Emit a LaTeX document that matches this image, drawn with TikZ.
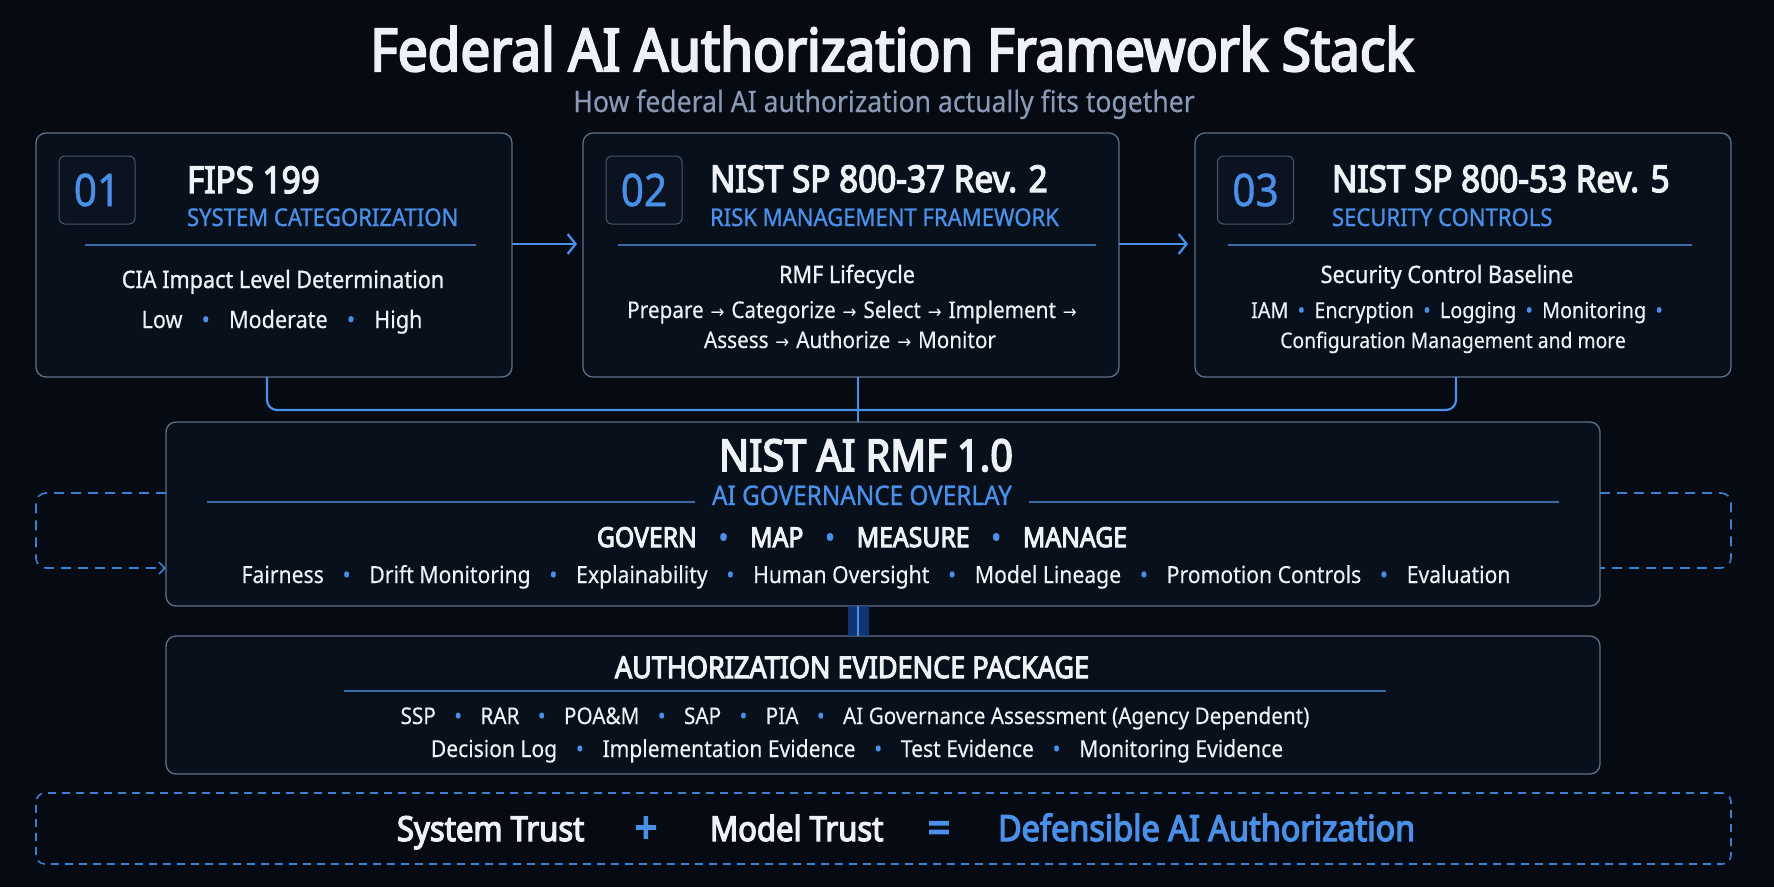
\documentclass[tikz,border=0pt]{standalone}
\usepackage{fontspec}
\setmainfont{Noto Sans}[FakeStretch=0.9,FakeBold=0.3]
\newfontfamily\medfont{Noto Sans}[FakeStretch=0.9,FakeBold=1.0]
\newfontfamily\bfont{Noto Sans}[FakeStretch=0.9,FakeBold=3.6]
\newfontfamily\arrowfont{DejaVu Sans}[Scale=0.8,FakeStretch=0.9]
\usetikzlibrary{arrows.meta,calc}
\definecolor{bg}{HTML}{050A13}
\definecolor{cardfill}{HTML}{07101B}
\definecolor{cardborder}{HTML}{5F7089}
\definecolor{numborder}{HTML}{4A576C}
\definecolor{numfill}{HTML}{0A131F}
\definecolor{accent}{HTML}{4A8FE8}
\definecolor{sepblue}{HTML}{3C6CA8}
\definecolor{dashblue}{HTML}{3B7FD0}
\definecolor{subgray}{HTML}{8A9AB5}
\definecolor{txtwhite}{HTML}{EEF1F5}
\definecolor{glowblue}{HTML}{12408C}
\newcommand{\bul}{\hspace{0.8em}{\color{accent}\textbullet}\hspace{0.8em}}
\newcommand{\bulS}{\hspace{0.42em}{\color{accent}\textbullet}\hspace{0.42em}}
\newcommand{\rar}{\hspace{0.3em}{\arrowfont →}\hspace{0.3em}}
\tikzset{
  card/.style={draw=cardborder, fill=cardfill, rounded corners=10pt, line width=1.3pt, inner sep=0pt, outer sep=0pt},
  numbox/.style={draw=numborder, fill=numfill, rounded corners=6pt, line width=1pt, inner sep=0pt, outer sep=0pt,
    minimum width=76pt, minimum height=68pt, text=accent, font=\medfont\fontsize{45}{47}\selectfont},
  txt/.style={text=txtwhite, inner sep=0pt, outer sep=0pt, anchor=base},
  ttl/.style={txt, anchor=base west, font=\bfont\fontsize{37}{40}\selectfont},
  subh/.style={txt, anchor=base west, text=accent, font=\medfont\fontsize{24.5}{26}\selectfont},
  head/.style={txt, font=\medfont\fontsize{24}{28}\selectfont},
  body/.style={txt, font=\fontsize{23}{27}\selectfont},
  sepline/.style={draw=sepblue, line width=1.5pt},
  conn/.style={draw=accent, line width=2.2pt, rounded corners=10pt},
  arr/.style={draw=accent, line width=2.2pt, -{Straight Barb[length=8pt,width=20pt,line width=2.2pt]}},
  loopline/.style={draw=dashblue, line width=1.6pt, dash pattern=on 10pt off 7pt, rounded corners=10pt},
  dashbox/.style={draw=dashblue, line width=1.6pt, dash pattern=on 8pt off 6pt, rounded corners=9pt, inner sep=0pt, outer sep=0pt},
  eqtxt/.style={txt, anchor=base west, font=\bfont\fontsize{34.5}{36}\selectfont}
}
\begin{document}
\begin{tikzpicture}[x=1pt,y=-1pt]
\fill[bg] (0,0) rectangle (1774,887);
\useasboundingbox (0,0) rectangle (1774,887);

% title
\node[txt, font=\bfont\fontsize{59}{62}\selectfont] (title) at (892,71) {Federal AI Authorization Framework Stack};
\node[txt, text=subgray, font=\fontsize{29.5}{32}\selectfont] (subtitle) at (884,112) {How federal AI authorization actually fits together};

% cards
\node[card, minimum width=476pt, minimum height=244pt] (card1) at (274,255) {};
\node[card, minimum width=536pt, minimum height=244pt] (card2) at (851,255) {};
\node[card, minimum width=536pt, minimum height=244pt] (card3) at (1463,255) {};

\node[numbox] (n1) at (97,190) {01};
\node[numbox] (n2) at (644,190) {02};
\node[numbox] (n3) at (1255.5,190) {03};

\node[ttl] (t1) at (187,193) {FIPS 199};
\node[subh] (s1) at (187,226) {SYSTEM CATEGORIZATION};
\draw[sepline] (85,245) -- (476,245);
\node[head] (c1a) at (283,288) {CIA Impact Level Determination};
\node[body, font=\fontsize{24}{27}\selectfont] (c1b) at (282,328) {Low\bul Moderate\bul High};

\node[ttl] (t2) at (710,192) {NIST SP 800-37 Rev. 2};
\node[subh] (s2) at (710,226) {RISK MANAGEMENT FRAMEWORK};
\draw[sepline] (618,245) -- (1096,245);
\node[head] (c2a) at (847,283) {RMF Lifecycle};
\node[body] (c2b) at (852,318) {Prepare\rar Categorize\rar Select\rar Implement\rar};
\node[body] (c2c) at (850,348) {Assess\rar Authorize\rar Monitor};

\node[ttl] (t3) at (1332,192) {NIST SP 800-53 Rev. 5};
\node[subh] (s3) at (1332,226) {SECURITY CONTROLS};
\draw[sepline] (1228,245) -- (1692,245);
\node[head] (c3a) at (1447,283) {Security Control Baseline};
\node[body, font=\fontsize{22}{26}\selectfont] (c3b) at (1457,318) {IAM\bulS Encryption\bulS Logging\bulS Monitoring\bulS};
\node[body, font=\fontsize{21.5}{26}\selectfont] (c3c) at (1453,348) {Configuration Management and more};

% arrows between cards
\draw[arr] ([yshift=11pt]card1.east) -- ([yshift=11pt,xshift=-6pt]card2.west);
\draw[arr] ([yshift=11pt]card2.east) -- ([yshift=11pt,xshift=-7pt]card3.west);

% middle box
\node[card, minimum width=1434pt, minimum height=184pt] (mid) at (883,514) {};
\coordinate (hbus) at (858,410);
\draw[conn] ([xshift=-7pt]card1.south) |- (hbus) -| ([xshift=-7pt]card3.south);
\draw[conn, line width=1.6pt] ([xshift=7pt]card2.south) -- ([xshift=-25pt]mid.north);

\node[txt, font=\bfont\fontsize{44}{46}\selectfont] (mt) at (866,471) {NIST AI RMF 1.0};
\node[txt, text=accent, font=\medfont\fontsize{27}{30}\selectfont] (mo) at (862,505) {AI GOVERNANCE OVERLAY};
\draw[sepline] (207,502) -- (695,502);
\draw[sepline] (1029,502) -- (1559,502);
\node[txt, font=\bfont\fontsize{27.5}{30}\selectfont] (mf) at (862,547) {GOVERN\bul MAP\bul MEASURE\bul MANAGE};
\node[body, font=\fontsize{23.5}{27}\selectfont] (ma) at (876,583) {Fairness\bul Drift Monitoring\bul Explainability\bul Human Oversight\bul Model Lineage\bul Promotion Controls\bul Evaluation};

% feedback loops
\coordinate (lloop) at (36,530);
\coordinate (rloop) at (1731,530);
\draw[loopline, -{Straight Barb[length=6pt,width=12pt,line width=1.6pt]}] ([yshift=21pt]mid.west) -| (lloop) |- ([yshift=-54pt]mid.west);
\draw[loopline] ([yshift=21pt]mid.east) -| (rloop) |- ([yshift=-54pt]mid.east);

% evidence box
\node[card, minimum width=1434pt, minimum height=138pt] (ev) at (883,705) {};
\draw[draw=glowblue, line width=21pt, opacity=0.8] ([xshift=-25pt]mid.south) -- ([xshift=-25pt]ev.north);
\draw[draw=accent, line width=2pt] ([xshift=-25pt]mid.south) -- ([xshift=-25pt]ev.north);
\node[txt, font=\bfont\fontsize{30}{32}\selectfont] (et) at (852,678) {AUTHORIZATION EVIDENCE PACKAGE};
\draw[sepblue, line width=2pt] (344,691) -- (1386,691);
\node[txt, font=\fontsize{23}{26}\selectfont] (e1) at (855,724) {SSP\bul RAR\bul POA\&M\bul SAP\bul PIA\bul AI Governance Assessment (Agency Dependent)};
\node[txt, font=\fontsize{23.4}{26}\selectfont] (e2) at (857,757) {Decision Log\bul Implementation Evidence\bul Test Evidence\bul Monitoring Evidence};

% equation bar
\node[dashbox, minimum width=1695pt, minimum height=71pt] (eq) at (883.5,828.5) {};
\node[eqtxt] (st) at (397,841) {System Trust};
\node[txt, text=accent, font=\bfont\fontsize{44}{46}\selectfont] (plus) at (646,843) {+};
\node[eqtxt] (mtr) at (710,841) {Model Trust};
\node[txt, text=accent, font=\bfont\fontsize{44}{46}\selectfont] (eqs) at (939,843) {=};
\node[eqtxt, text=accent, font=\bfont\fontsize{36}{38}\selectfont] (def) at (998,841) {Defensible AI Authorization};
\end{tikzpicture}
\end{document}
